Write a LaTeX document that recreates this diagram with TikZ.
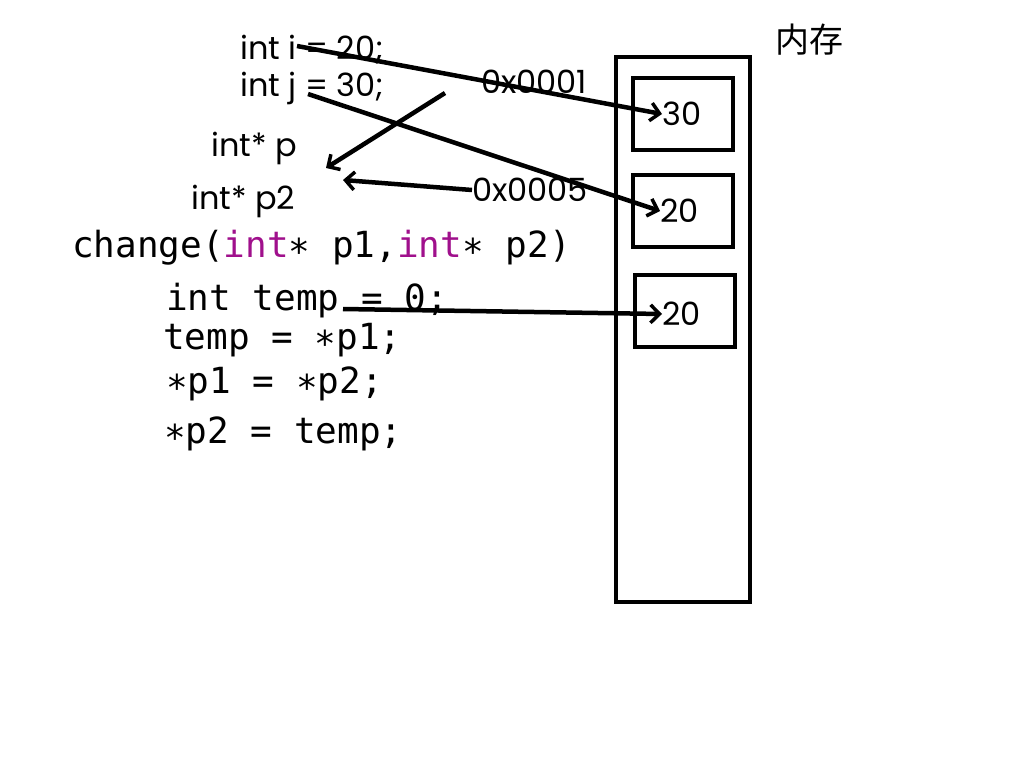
\documentclass[tikz,border=0pt]{standalone}
\usepackage{fontspec}
\setmainfont{Poppins}
\setmonofont{DejaVu Sans Mono}
\newfontfamily\cjk{Noto Sans CJK SC}
\usepackage{tikz}
\usetikzlibrary{positioning,arrows.meta}

\definecolor{kwpurple}{RGB}{160,16,140}
\tikzset{
    hand/.style={line width=4.5pt,-{Straight Barb[length=9pt,width=18pt,line width=3.5pt]}},
    cell/.style={draw,line width=3.5pt,minimum width=100pt,minimum height=72pt,inner sep=0pt},
    lbl/.style={anchor=west,inner sep=0pt,font=\fontsize{32}{32}\selectfont},
    code/.style={anchor=west,inner sep=0pt,font=\ttfamily\fontsize{36}{36}\selectfont}
}

\begin{document}
\begin{tikzpicture}[x=1pt,y=-1pt]
    \useasboundingbox (0,0) rectangle (1024,768);

    % memory column
    \draw[line width=4pt] (616,57) rectangle (750,602);
    \node (mem) at (809,40) {\cjk\fontsize{34}{34}\selectfont 内存};
    \node[cell] (cellA) at (683,114) {};
    \node[cell] (cellB) at (683,211) {};
    \node[cell] (cellC) at (685,311) {};
    \node[lbl] (valA) at (662,114) {30};
    \node[lbl] (valB) at (660,211) {20};
    \node[lbl] (valC) at (662,314) {20};

    % variables
    \node[lbl] (vi) at (240,50) {int i = 20;};
    \node[lbl] (vj) at (240,88) {int j = 30;};
    \node[lbl] (pp) at (211,148) {int* p};
    \node[lbl] (pq) at (191,201) {int* p2};
    \node[lbl] (adrA) at (481,82) {0x0001};
    \node[lbl] (adrB) at (472,190) {0x0005};

    % function body
    \node[code] (fn) at (72,248) {change(\textcolor{kwpurple}{int}∗ p1,\textcolor{kwpurple}{int}∗ p2)};
    \node[code] (l1) at (166,301) {int temp = 0;};
    \node[code] (l2) at (163,340) {temp = ∗p1;};
    \node[code] (l3) at (166,384) {∗p1 = ∗p2;};
    \node[code] (l4) at (164,434) {∗p2 = temp;};

    % pointers
    \coordinate (iEnd) at (297,46);
    \coordinate (jEnd) at (308,94);
    \coordinate (aEnd) at (445,93);
    \coordinate (pTip) at (326,168);
    \coordinate (qTip) at (343,180);
    \coordinate (tEnd) at (343,309);
    \draw[hand] (iEnd) -- (valA.west);
    \draw[hand] (jEnd) -- (valB.west);
    \draw[hand] (aEnd) -- (pTip);
    \draw[hand] (adrB.west) -- (qTip);
    \draw[hand] (tEnd) -- (valC.west);
\end{tikzpicture}
\end{document}
